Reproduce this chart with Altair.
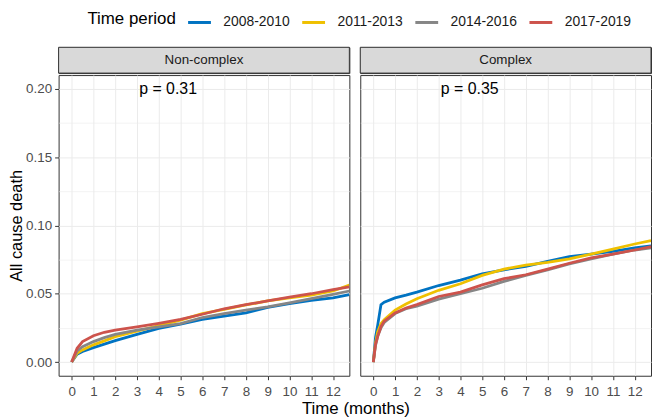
import altair as alt
import pandas as pd

periods = ["2008-2010", "2011-2013", "2014-2016", "2017-2019"]
colors = ["#0073C2", "#EFC000", "#868686", "#CD534C"]
panels = ["Non-complex", "Complex"]
p_labels = ["p = 0.31", "p = 0.35"]

# Non-complex panel (months, cumulative incidence)
nc_time = [0, 0.25, 0.5, 1, 1.5, 2, 3, 4, 5, 6, 7, 8, 9, 10, 11, 12, 12.75]
nc_2008 = [0, 0.0058, 0.0077, 0.0106, 0.0131, 0.0157, 0.0203, 0.0247, 0.0278, 0.0312, 0.0336, 0.0360, 0.0400, 0.0428, 0.0452, 0.0470, 0.0493]
nc_2011 = [0, 0.0065, 0.0089, 0.0126, 0.0155, 0.0186, 0.0227, 0.0266, 0.0307, 0.0355, 0.0386, 0.0418, 0.0447, 0.0470, 0.0490, 0.0520, 0.0563]
nc_2014 = [0, 0.0082, 0.0113, 0.0150, 0.0179, 0.0203, 0.0234, 0.0258, 0.0282, 0.0326, 0.0355, 0.0380, 0.0404, 0.0433, 0.0464, 0.0496, 0.0520]
nc_2017 = [0, 0.0101, 0.0150, 0.0193, 0.0218, 0.0234, 0.0257, 0.0283, 0.0312, 0.0350, 0.0390, 0.0420, 0.0447, 0.0476, 0.0500, 0.0530, 0.0550]

# Complex panel
c_time = [0, 0.1, 0.2, 0.35, 0.5, 1, 1.5, 2, 3, 4, 5, 6, 7, 8, 9, 10, 11, 12, 12.75]
c_2008 = [0, 0.018, 0.027, 0.042, 0.0438, 0.047, 0.049, 0.0512, 0.056, 0.060, 0.0646, 0.0675, 0.070, 0.0737, 0.0771, 0.079, 0.081, 0.0835, 0.085]
c_2011 = [0, 0.014, 0.022, 0.028, 0.031, 0.038, 0.0425, 0.0464, 0.0525, 0.0573, 0.0634, 0.068, 0.071, 0.073, 0.0755, 0.079, 0.0827, 0.0864, 0.0888]
c_2014 = [0, 0.012, 0.019, 0.025, 0.029, 0.0355, 0.039, 0.041, 0.046, 0.050, 0.054, 0.059, 0.0634, 0.0675, 0.0718, 0.0755, 0.079, 0.082, 0.0835]
c_2017 = [0, 0.013, 0.0186, 0.026, 0.030, 0.036, 0.0395, 0.042, 0.048, 0.0512, 0.0565, 0.061, 0.0639, 0.068, 0.0723, 0.0762, 0.079, 0.082, 0.0844]

x_ticks = [i * 0.5 for i in range(26)]
y_ticks = [i * 0.025 for i in range(9)]

rows = []
for panel_name, tt, series in [
    ("Non-complex", nc_time, [nc_2008, nc_2011, nc_2014, nc_2017]),
    ("Complex", c_time, [c_2008, c_2011, c_2014, c_2017]),
]:
    for per, vals in zip(periods, series):
        for t, v in zip(tt, vals):
            rows.append({"panel": panel_name, "period": per, "t": t, "v": v})
df = pd.DataFrame(rows)

W = 293
H = 303
SH = 26
FONT = "Liberation Sans"

x_minor = "datum.value % 1 !== 0"
y_minor = "round(datum.value * 40) % 2 === 1"


def make_panel(name, ptext, first):
    xaxis = alt.Axis(
        values=x_ticks,
        format="d",
        labelExpr="datum.value % 1 === 0 ? datum.label : ''",
        labelOverlap=False,
        title=None,
        domain=False,
        tickColor="#333333",
        tickSize=4,
        tickOpacity={"condition": {"test": x_minor, "value": 0}, "value": 1},
        gridColor="#ebebeb",
        gridWidth={"condition": {"test": x_minor, "value": 0.6}, "value": 1},
        labelFontSize=13.5,
        labelColor="#4d4d4d",
        labelPadding=5,
    )
    if first:
        yaxis = alt.Axis(
            values=y_ticks,
            format=".2f",
            labelExpr="round(datum.value * 40) % 2 === 0 ? datum.label : ''",
            labelOverlap=False,
            title="All cause death",
            titleFontSize=16.5,
            titleFontWeight="normal",
            titleColor="black",
            titlePadding=1,
            domain=False,
            tickColor="#333333",
            tickSize=4,
            tickOpacity={"condition": {"test": y_minor, "value": 0}, "value": 1},
            gridColor="#ebebeb",
            gridWidth={"condition": {"test": y_minor, "value": 0.6}, "value": 1},
            labelFontSize=13.5,
            labelColor="#4d4d4d",
            labelPadding=3,
        )
    else:
        yaxis = alt.Axis(
            values=y_ticks,
            labels=False,
            ticks=False,
            domain=False,
            title=None,
            labelOverlap=False,
            gridColor="#ebebeb",
            gridWidth={"condition": {"test": y_minor, "value": 0.6}, "value": 1},
        )
    xs = alt.Scale(domain=[-0.6, 12.75], nice=False, zero=False)
    ys = alt.Scale(domain=[-0.01, 0.21], nice=False, zero=False)

    legend = alt.Legend(
        orient="none",
        legendX=29,
        legendY=-38,
        direction="horizontal",
        title="Time period",
        titleOrient="left",
        titleFontSize=17,
        titleFontWeight="normal",
        titleColor="black",
        titleFont=FONT,
        titlePadding=10,
        labelFontSize=14,
        labelColor="#1a1a1a",
        labelFont=FONT,
        labelOffset=11,
        columnPadding=6,
        symbolType="stroke",
        symbolStrokeWidth=3,
        symbolSize=529,
    )

    lines = (
        alt.Chart(df[df.panel == name])
        .mark_line(strokeWidth=2.8, clip=True)
        .encode(
            x=alt.X("t:Q", scale=xs, axis=xaxis),
            y=alt.Y("v:Q", scale=ys, axis=yaxis),
            color=alt.Color(
                "period:N",
                scale=alt.Scale(domain=periods, range=colors),
                legend=legend if first else None,
            ),
            order=alt.Order("t:Q"),
        )
    )
    ptxt = (
        alt.Chart(pd.DataFrame({"t": [3.1], "v": [0.2], "label": [ptext]}))
        .mark_text(align="left", baseline="middle", fontSize=16, color="black", font=FONT)
        .encode(
            x=alt.X("t:Q", scale=xs, axis=xaxis),
            y=alt.Y("v:Q", scale=ys, axis=yaxis),
            text="label:N",
        )
    )
    body = alt.layer(lines, ptxt).properties(width=W, height=H)

    sdf = pd.DataFrame({"label": [name]})
    srect = alt.Chart(sdf).mark_rect(fill="#d9d9d9", stroke="#333333", strokeWidth=1).encode(
        x=alt.value(0), x2=alt.value(W), y=alt.value(0), y2=alt.value(SH)
    )
    stext = alt.Chart(sdf).mark_text(fontSize=13.5, color="#1a1a1a", font=FONT).encode(
        x=alt.value(W / 2), y=alt.value(SH / 2), text="label:N"
    )
    strip = alt.layer(srect, stext).properties(width=W, height=SH)
    return alt.vconcat(strip, body, spacing=0)


chart = (
    alt.hconcat(
        make_panel(panels[0], p_labels[0], True),
        make_panel(panels[1], p_labels[1], False),
        spacing=9,
    )
    .properties(
        padding={"left": 0, "top": 0, "right": 0, "bottom": 0},
        title=alt.TitleParams(
            "Time (months)",
            orient="bottom",
            anchor="middle",
            fontSize=17,
            fontWeight="normal",
            color="black",
            font=FONT,
            offset=3,
            dx=26,
        ),
    )
    .configure(font=FONT)
    .configure_view(stroke="#333333", strokeWidth=1)
)

chart.save("out.html", embed_options={"renderer": "svg", "actions": False})
